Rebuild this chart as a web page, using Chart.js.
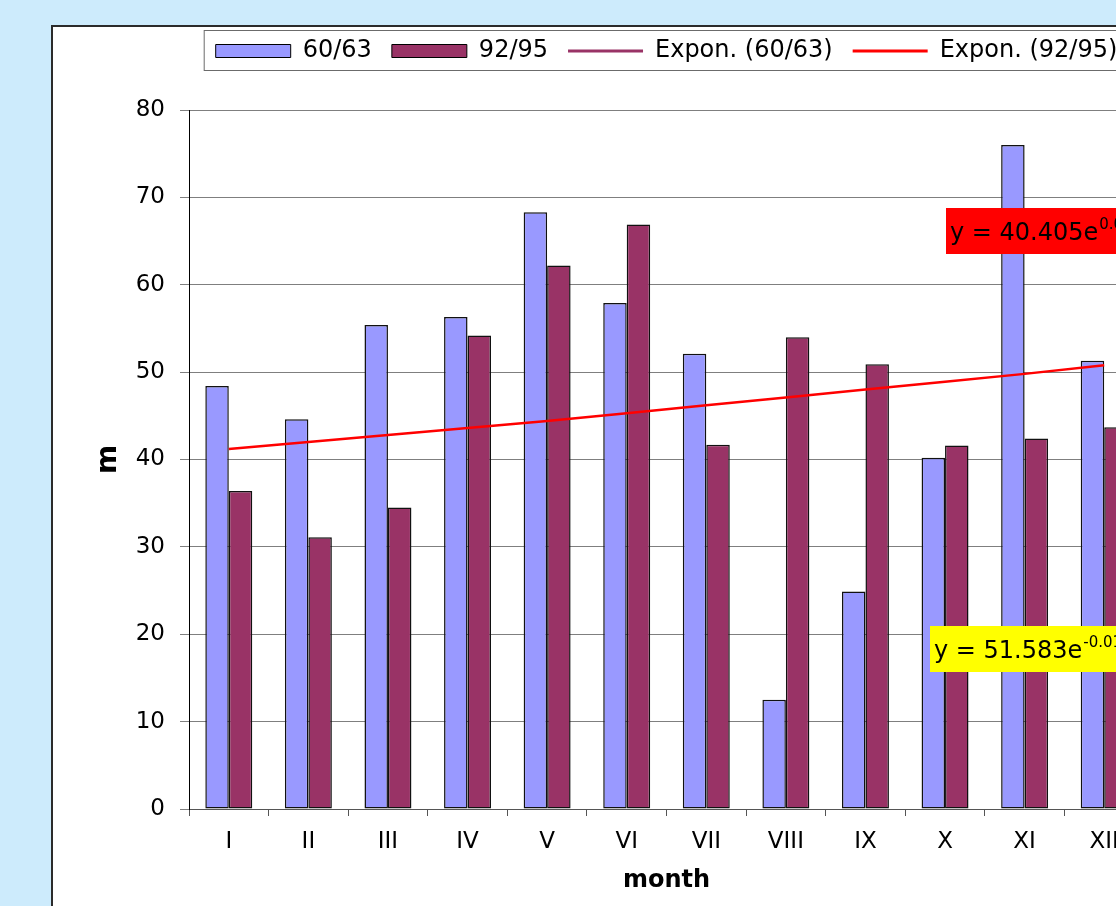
<!DOCTYPE html>
<html>
<head>
<meta charset="utf-8">
<script src="https://cdn.jsdelivr.net/npm/chart.js@4.4.0/dist/chart.umd.min.js"></script>
<style>
  html, body { margin: 0; padding: 0; width: 1116px; height: 906px; overflow: hidden; background: #cdebfc; }
  #frame { position: absolute; left: 51px; top: 25px; width: 1200px; height: 1000px; background: #fff; border: 2px solid #2b2b2b; box-sizing: border-box; }
  #chart { position: absolute; left: 52px; top: 19px; }
</style>
</head>
<body>
<div id="frame"></div>
<canvas id="chart" width="1200" height="887"></canvas>
<script>
var months = ["I", "II", "III", "IV", "V", "VI", "VII", "VIII", "IX", "X", "XI", "XII"];
var series6063 = [48.4, 44.6, 55.4, 56.3, 68.3, 57.9, 52.1, 12.5, 24.9, 40.2, 76.0, 51.3];
var series9295 = [36.4, 31.1, 34.5, 54.2, 62.2, 66.9, 41.7, 54.0, 50.9, 41.6, 42.4, 43.7];
// only the red trend line is visible in the picture
var trend9295 = [41.2, 42.0, 42.8, 43.6, 44.4, 45.3, 46.2, 47.1, 48.0, 48.9, 49.8, 50.8];
var trend6063 = [];
var eqRed = ["y = 40.405e", "0.0191x"];
var eqYellow = ["y = 51.583e", "-0.012x"];

Chart.defaults.font.family = "'DejaVu Sans', sans-serif";
Chart.defaults.color = "#000";

function eqBox(ctx, x, y, w, h, fill, txt) {
  ctx.save();
  ctx.fillStyle = fill;
  ctx.fillRect(x, y, w, h);
  ctx.fillStyle = "#000";
  ctx.textBaseline = "alphabetic";
  ctx.font = "24px 'DejaVu Sans'";
  ctx.fillText(txt[0], x + 4, y + h / 2 + 9);
  var mw = ctx.measureText(txt[0]).width;
  ctx.font = "15px 'DejaVu Sans'";
  ctx.fillText(txt[1], x + 4 + mw + 1, y + h / 2 - 2);
  ctx.restore();
}

var extras = {
  id: "extras",
  beforeLayout: function (chart) {
    var lg = chart.legend;
    if (lg && !lg._padded) {
      var fit = lg.fit;
      lg.fit = function () {
        fit.apply(this, arguments);
        this.height += 37;
      };
      lg._padded = true;
    }
  },
  afterDraw: function (chart) {
    var ctx = chart.ctx;
    var area = chart.chartArea;
    var hb = chart.legend.legendHitBoxes;
    if (hb && hb.length) {
      var first = hb[0], last = hb[hb.length - 1];
      ctx.save();
      ctx.strokeStyle = "#6b6b6b";
      ctx.lineWidth = 1;
      ctx.strokeRect(first.left - 11.5, first.top - 8.5, last.left + last.width - first.left + 30, first.height + 16);
      ctx.restore();
    }
    eqBox(ctx, area.left + 757, area.top + 98, 260, 46, "#ff0000", eqRed);
    eqBox(ctx, area.left + 741, area.top + 516, 260, 46, "#ffff00", eqYellow);
  }
};

new Chart(document.getElementById("chart"), {
  type: "bar",
  data: {
    labels: months,
    datasets: [
      { label: "60/63", data: series6063, backgroundColor: "#9999ff", borderColor: "#111", borderWidth: 1.5,
        borderSkipped: false, categoryPercentage: 0.59, barPercentage: 1, order: 1 },
      { label: "92/95", data: series9295, backgroundColor: "#993366", borderColor: "#111", borderWidth: 1.5,
        borderSkipped: false, categoryPercentage: 0.59, barPercentage: 1, order: 1 },
      { type: "line", label: "Expon. (60/63)", data: trend6063, borderColor: "#993366", borderWidth: 3,
        pointRadius: 0, fill: false, order: 0 },
      { type: "line", label: "Expon. (92/95)", data: trend9295, borderColor: "#ff0000", borderWidth: 2.5,
        pointRadius: 0, tension: 0, fill: false, order: 0 }
    ]
  },
  options: {
    responsive: false,
    animation: false,
    devicePixelRatio: 1,
    layout: { padding: { left: 0, right: 108, top: 0, bottom: 0 } },
    plugins: {
      tooltip: { enabled: false },
      legend: {
        position: "top",
        fullSize: false,
        labels: {
          font: { size: 24 },
          color: "#000",
          usePointStyle: true,
          pointStyleWidth: 75,
          boxHeight: 13,
          padding: 20,
          sort: function (a, b) { return a.datasetIndex - b.datasetIndex; },
          generateLabels: function (chart) {
            var items = Chart.defaults.plugins.legend.labels.generateLabels(chart);
            items.forEach(function (it) {
              var ds = chart.data.datasets[it.datasetIndex];
              if (ds.type === "line") {
                it.pointStyle = "line";
                it.strokeStyle = ds.borderColor;
                it.lineWidth = 3;
              } else {
                it.pointStyle = "rect";
                it.fillStyle = ds.backgroundColor;
                it.strokeStyle = "#000";
                it.lineWidth = 1;
              }
            });
            return items;
          }
        }
      }
    },
    scales: {
      x: {
        offset: true,
        ticks: { font: { size: 23 }, color: "#000", padding: 12, maxRotation: 0, autoSkip: false },
        grid: { offset: true, drawOnChartArea: false, color: "#555", tickLength: 7 },
        border: { color: "#555", width: 1 },
        title: { display: true, text: "month", font: { size: 24, weight: "bold" }, color: "#000", padding: { top: 0, bottom: 11 } },
        afterFit: function (s) { s.height = 97; }
      },
      y: {
        min: 0,
        max: 80,
        ticks: { stepSize: 10, font: { size: 23 }, color: "#000", padding: 15 },
        grid: { color: "#7f7f7f", tickLength: 9, lineWidth: 1 },
        border: { color: "#000", width: 1 },
        title: { display: true, text: "m", font: { size: 28, weight: "bold" }, color: "#000", padding: { top: 40, bottom: 0 } },
        afterFit: function (s) { s.width = 137; }
      }
    }
  },
  plugins: [extras]
});
</script>
</body>
</html>
